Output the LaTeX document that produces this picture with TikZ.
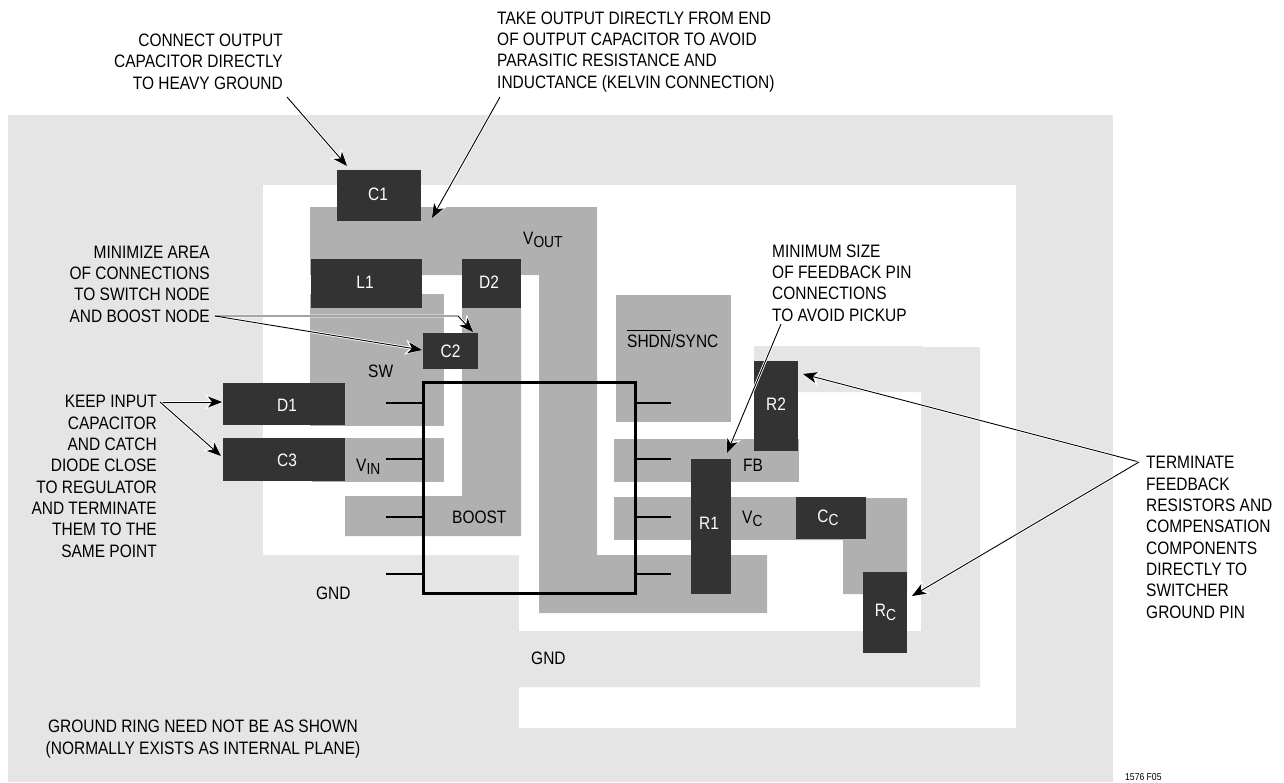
\documentclass[tikz,border=0pt]{standalone}
\usepackage{fontspec}
\setmainfont[FakeStretch=0.86]{Liberation Sans}
\usetikzlibrary{arrows.meta}
\definecolor{gndgray}{HTML}{E5E5E5}
\definecolor{tracegray}{HTML}{B0B0B0}
\definecolor{devdark}{HTML}{333333}
\newcommand{\subtxt}[1]{\raisebox{-3.5pt}{\fontsize{16}{16}\selectfont #1}}
\tikzset{
  gndplane/.style={fill=gndgray,draw=none},
  clearance/.style={fill=white,draw=none},
  tracearea/.style={fill=tracegray,draw=none},
  device/.style={fill=devdark,draw=none,inner sep=0,rectangle},
  devlabel/.style={text=white,font=\fontsize{18}{20}\selectfont,inner sep=0},
  note/.style={font=\fontsize{18}{21.3}\selectfont,inner sep=0,text=black},
  noteR/.style={note,align=right,anchor=base east},
  noteL/.style={note,align=left,anchor=base west},
  netname/.style={font=\fontsize{18}{20}\selectfont,inner sep=0,text=black,anchor=base west},
  pin/.style={draw=black,line width=2.8pt},
  chipbody/.style={draw=black,line width=3pt,fill=none,miter limit=10},
  halo/.style={draw=white,line width=2.6pt,-{Stealth[length=17pt,width=15pt,inset=5pt]}},
  leader/.style={draw=black,line width=0.9pt,-{Stealth[length=14pt,width=11pt,inset=4pt]}},
}
\newcommand{\callout}[2]{%
  \draw[halo] #1 -- #2;
  \draw[leader] #1 -- #2;
}
\begin{document}
\begin{tikzpicture}[x=1pt,y=-1pt]
\useasboundingbox (0,0) rectangle (1284,782);
\fill[white] (0,0) rectangle (1284,782);
% planes
\path[gndplane] (8,115) rectangle (1113,782);
\path[clearance] (263,185) -- (1016,185) -- (1016,728) -- (519,728) -- (519,555) -- (263,555) -- cycle;
\path[gndplane] (754,346) -- (922,346) -- (922,347) -- (980,347) -- (980,687) -- (519,687) -- (519,631) -- (921,631) -- (921,392) -- (754,392) -- cycle;
% traces
\path[tracearea] (310,207) -- (597,207) -- (597,555) -- (767,555) -- (767,613) -- (539,613) -- (539,275) -- (310,275) -- cycle;
\path[tracearea] (310,294) rectangle (444,426);
\path[tracearea] (312,438) rectangle (444,482);
\path[tracearea] (462,308) -- (521,308) -- (521,536) -- (345,536) -- (345,496) -- (462,496) -- cycle;
\path[tracearea] (616,295) rectangle (731,422);
\path[tracearea] (614,439) rectangle (799,482);
\path[tracearea] (614,497) rectangle (796,540);
\path[tracearea] (796,498) -- (907,498) -- (907,594) -- (843,594) -- (843,540) -- (796,540) -- cycle;
% devices
\node[device,minimum width=84pt,minimum height=51pt,label={[devlabel,xshift=-1pt,yshift=1.5pt]center:C1}] (C1) at (379,195.5) {};
\node[device,minimum width=111pt,minimum height=49pt,label={[devlabel,xshift=-1.5pt,yshift=1.5pt]center:L1}] (L1) at (366.5,283.5) {};
\node[device,minimum width=59pt,minimum height=49pt,label={[devlabel,xshift=-2.5pt,yshift=1.5pt]center:D2}] (D2) at (491.5,283.5) {};
\node[device,minimum width=55pt,minimum height=36pt,label={[devlabel]center:C2}] (C2) at (450.5,351) {};
\node[device,minimum width=122pt,minimum height=42pt,label={[devlabel,xshift=3pt,yshift=-1pt]center:D1}] (D1) at (284,404) {};
\node[device,minimum width=122pt,minimum height=43pt,label={[devlabel,xshift=3pt,yshift=-0.5pt]center:C3}] (C3) at (284,459.5) {};
\node[device,minimum width=40pt,minimum height=135pt,label={[devlabel,xshift=-2pt,yshift=3.5pt]center:R1}] (R1) at (711,526.5) {};
\node[device,minimum width=44pt,minimum height=90pt,label={[devlabel,yshift=2pt]center:R2}] (R2) at (776,406) {};
\node[device,minimum width=70pt,minimum height=42pt,label={[devlabel,xshift=-3pt]center:C\subtxt{C}}] (CC) at (831,518) {};
\node[device,minimum width=44pt,minimum height=81pt,label={[devlabel,xshift=0.5pt]center:R\subtxt{C}}] (RC) at (885,612.5) {};
% regulator
\node[chipbody,minimum width=212pt,minimum height=211pt,inner sep=0] (U1) at (529,487.5) {};
\foreach \nm/\py in {a/403,b/459,c/517,d/574}{
  \coordinate (pl\nm) at (386,\py);
  \coordinate (pr\nm) at (671,\py);
  \draw[pin] (pl\nm) -- (pl\nm -| U1.west);
  \draw[pin] (U1.east |- pr\nm) -- (pr\nm);
}
% net names
\node[netname] (nVout) at (523,244) {V\subtxt{OUT}};
\node[netname] (nSW) at (368,377) {SW};
\node[netname] (nVin) at (356,471) {V\subtxt{IN}};
\node[netname] (nBoost) at (452,523) {BOOST};
\node[netname] (nGndA) at (316,599) {GND};
\node[netname] (nGndB) at (531,664) {GND};
\node[netname] (nFB) at (743,471) {FB};
\node[netname] (nVc) at (742,523) {V\subtxt{C}};
\node[netname] (nShdn) at (627,347) {\makebox[0pt][l]{\rule[16.5pt]{44pt}{0.8pt}}SHDN/SYNC};
% notes
\node[noteR] (tC1) at (283,89) {CONNECT OUTPUT\\CAPACITOR DIRECTLY\\TO HEAVY GROUND};
\node[noteL] (tKel) at (497,88) {TAKE OUTPUT DIRECTLY FROM END\\OF OUTPUT CAPACITOR TO AVOID\\PARASITIC RESISTANCE AND\\INDUCTANCE (KELVIN CONNECTION)};
\node[noteR] (tMin) at (210,322) {MINIMIZE AREA\\OF CONNECTIONS\\TO SWITCH NODE\\AND BOOST NODE};
\node[noteR] (tKeep) at (157,557) {KEEP INPUT\\CAPACITOR\\AND CATCH\\DIODE CLOSE\\TO REGULATOR\\AND TERMINATE\\THEM TO THE\\SAME POINT};
\node[noteL] (tFB) at (772,321) {MINIMUM SIZE\\OF FEEDBACK PIN\\CONNECTIONS\\TO AVOID PICKUP};
\node[noteL] (tTerm) at (1146,618) {TERMINATE\\FEEDBACK\\RESISTORS AND\\COMPENSATION\\COMPONENTS\\DIRECTLY TO\\SWITCHER\\GROUND PIN};
\node[note,align=center,anchor=base] (tRing) at (203,754) {GROUND RING NEED NOT BE AS SHOWN\\(NORMALLY EXISTS AS INTERNAL PLANE)};
\node[inner sep=0,anchor=base west,font=\fontsize{10}{11}\selectfont] (tFig) at (1125,780) {1576 F05};
% connector ends
\coordinate (sC1) at (287,97);   \coordinate (eC1) at (347,166);
\coordinate (sK) at (500,97);    \coordinate (eK) at (432,218);
\coordinate (sM) at (215,316);   \coordinate (mM) at (458,316);
\coordinate (eMa) at (473,332);  \coordinate (eMb) at (422,350);
\coordinate (sI) at (160,402);   \coordinate (eIa) at (222,402);  \coordinate (eIb) at (221,456);
\coordinate (sF) at (781,324);   \coordinate (eF) at (727,453);
\coordinate (sT) at (1139,462);  \coordinate (eTa) at (803,374);  \coordinate (eTb) at (912,596);
% halos first, then lines
\callout{(sC1)}{(eC1)}
\callout{(sK)}{(eK)}
\draw[halo] (sM) -- (mM) -- (eMa);
\draw[halo] (sM) -- (eMb);
\draw[leader] (sM) -- (mM) -- (eMa);
\draw[leader] (sM) -- (eMb);
\callout{(sI)}{(eIa)}
\callout{(sI)}{(eIb)}
\callout{(sF)}{(eF)}
\callout{(sT)}{(eTa)}
\callout{(sT)}{(eTb)}
\end{tikzpicture}
\end{document}
